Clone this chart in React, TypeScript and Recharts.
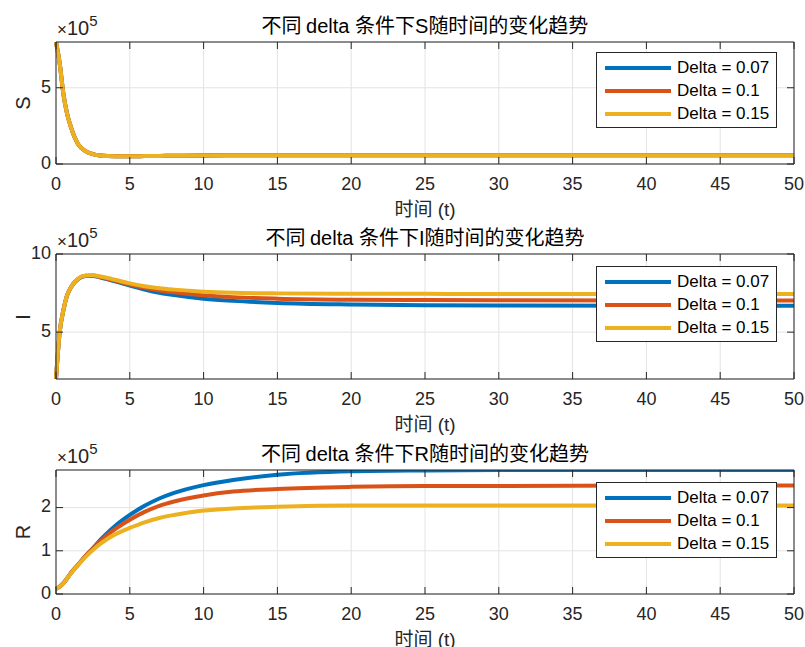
import React from 'react';
import { LineChart, Line, XAxis, YAxis, CartesianGrid } from 'recharts';

// time points (t) and values in units of 1e5
const T = [0, 0.25, 0.5, 0.75, 1, 1.5, 2, 2.5, 3, 3.5, 4, 5, 6, 7, 8, 10, 12, 15, 20, 25, 30, 40, 50];

const S_D07 = [8.0, 6.6, 4.6, 3.3, 2.45, 1.3, 0.85, 0.65, 0.56, 0.52, 0.51, 0.51, 0.52, 0.53, 0.54, 0.56, 0.57, 0.58, 0.58, 0.58, 0.58, 0.58, 0.58];
const S_D10 = [8.0, 6.6, 4.6, 3.3, 2.45, 1.3, 0.85, 0.65, 0.56, 0.52, 0.51, 0.51, 0.52, 0.53, 0.54, 0.56, 0.57, 0.58, 0.58, 0.58, 0.58, 0.58, 0.58];
const S_D15 = [8.0, 6.6, 4.6, 3.3, 2.45, 1.3, 0.85, 0.65, 0.56, 0.52, 0.51, 0.51, 0.52, 0.53, 0.54, 0.56, 0.57, 0.58, 0.58, 0.58, 0.58, 0.58, 0.58];

const I_D07 = [2.0, 5.0, 6.4, 7.35, 7.85, 8.4, 8.6, 8.6, 8.5, 8.38, 8.25, 7.98, 7.73, 7.52, 7.37, 7.14, 7.0, 6.87, 6.77, 6.72, 6.7, 6.69, 6.69];
const I_D10 = [2.0, 5.0, 6.4, 7.35, 7.85, 8.41, 8.61, 8.62, 8.53, 8.42, 8.3, 8.05, 7.84, 7.67, 7.55, 7.36, 7.24, 7.14, 7.07, 7.05, 7.04, 7.03, 7.03];
const I_D15 = [2.0, 5.0, 6.4, 7.35, 7.85, 8.42, 8.62, 8.64, 8.56, 8.46, 8.35, 8.12, 7.94, 7.81, 7.72, 7.59, 7.52, 7.48, 7.46, 7.45, 7.44, 7.44, 7.44];

const R_D07 = [0.12, 0.17, 0.25, 0.36, 0.48, 0.68, 0.88, 1.06, 1.25, 1.42, 1.575, 1.83, 2.04, 2.21, 2.34, 2.52, 2.64, 2.76, 2.84, 2.86, 2.87, 2.87, 2.87];
const R_D10 = [0.12, 0.17, 0.25, 0.36, 0.48, 0.68, 0.88, 1.05, 1.22, 1.37, 1.5, 1.72, 1.9, 2.04, 2.14, 2.28, 2.37, 2.43, 2.48, 2.5, 2.5, 2.51, 2.51];
const R_D15 = [0.12, 0.17, 0.25, 0.36, 0.47, 0.67, 0.86, 1.02, 1.16, 1.28, 1.38, 1.53, 1.66, 1.76, 1.83, 1.93, 1.98, 2.02, 2.05, 2.05, 2.05, 2.05, 2.05];

const X_TICKS = [0, 5, 10, 15, 20, 25, 30, 35, 40, 45, 50];
const DELTAS = ['Delta = 0.07', 'Delta = 0.1', 'Delta = 0.15'];
const COLORS = ['#0072BD', '#D95319', '#EDB120'];

const AXIS = '#262626';
const GRID = '#e3e3e3';
const FONT = '"Liberation Sans", Arial, "Noto Sans CJK SC", sans-serif';
const CJK = '"Noto Sans CJK SC", "Liberation Sans", sans-serif';

const buildRows = (a: number[], b: number[], c: number[]) =>
  T.map((t, i) => ({ t, d07: a[i], d10: b[i], d15: c[i] }));

const XTick = ({ x, y, payload, top }: any) => (
  <g>
    <line x1={x} x2={x} y1={y} y2={top ? y + 7 : y - 7} stroke={AXIS} strokeWidth={1} />
    {!top && (
      <text x={x} y={y + 21} textAnchor="middle" dominantBaseline="middle" fill={AXIS} fontSize={18} fontFamily={FONT}>
        {payload.value}
      </text>
    )}
  </g>
);

const YTick = ({ x, y, payload, right }: any) => (
  <g>
    <line x1={x} x2={right ? x - 7 : x + 7} y1={y} y2={y} stroke={AXIS} strokeWidth={1} />
    {!right && (
      <text x={x - 5} y={y} textAnchor="end" dominantBaseline="middle" fill={AXIS} fontSize={18} fontFamily={FONT}>
        {payload.value}
      </text>
    )}
  </g>
);

type PanelProps = {
  top: number;
  plotTop: number;
  plotHeight: number;
  data: any[];
  domain: [number, number];
  yTicks: number[];
  varName: string;
  legendTop: number;
};

function Panel({ top, plotTop, plotHeight, data, domain, yTicks, varName, legendTop }: PanelProps) {
  const height = plotTop + plotHeight + 50;
  const midY = plotTop + plotHeight / 2;
  return (
    <div style={{ position: 'absolute', left: 0, top, width: 805, height }}>
      <LineChart width={805} height={height} data={data} margin={{ top: 0, right: 0, bottom: 0, left: 0 }}>
        <CartesianGrid stroke={GRID} strokeWidth={1} />
        <XAxis dataKey="t" type="number" domain={[0, 50]} ticks={X_TICKS} height={50} tickSize={0} tickMargin={0}
          tickLine={false} axisLine={{ stroke: AXIS }} tick={(p: any) => <XTick {...p} />} interval={0} />
        <XAxis xAxisId="top" dataKey="t" type="number" orientation="top" domain={[0, 50]} ticks={X_TICKS} height={plotTop}
          tickSize={0} tickMargin={0} tickLine={false} axisLine={{ stroke: AXIS }} tick={(p: any) => <XTick {...p} top />} interval={0} />
        <YAxis type="number" domain={domain} ticks={yTicks} width={56} tickSize={0} tickMargin={0} tickLine={false}
          axisLine={{ stroke: AXIS }} allowDataOverflow tick={(p: any) => <YTick {...p} />} interval={0} />
        <YAxis yAxisId="right" orientation="right" type="number" domain={domain} ticks={yTicks} width={11} tickSize={0}
          tickMargin={0} tickLine={false} axisLine={{ stroke: AXIS }} allowDataOverflow tick={(p: any) => <YTick {...p} right />} interval={0} />
        <Line dataKey="d07" type="monotone" stroke={COLORS[0]} strokeWidth={4} dot={false} isAnimationActive={false} />
        <Line dataKey="d10" type="monotone" stroke={COLORS[1]} strokeWidth={4} dot={false} isAnimationActive={false} />
        <Line dataKey="d15" type="monotone" stroke={COLORS[2]} strokeWidth={4} dot={false} isAnimationActive={false} />
      </LineChart>

      {/* title */}
      <div style={{ position: 'absolute', left: 56, width: 738, top: plotTop - 29, textAlign: 'center', fontSize: 20,
        lineHeight: '24px', color: '#000', whiteSpace: 'nowrap' }}>
        <span style={{ fontFamily: CJK }}>不同 </span>
        <span style={{ fontFamily: FONT }}>delta </span>
        <span style={{ fontFamily: CJK }}>条件下</span>
        <span style={{ fontFamily: FONT }}>{varName}</span>
        <span style={{ fontFamily: CJK }}>随时间的变化趋势</span>
      </div>

      {/* exponent */}
      <div style={{ position: 'absolute', left: 57, top: plotTop - 24, fontFamily: FONT, color: AXIS, whiteSpace: 'nowrap', lineHeight: '20px' }}>
        <span style={{ fontSize: 17 }}>×</span>
        <span style={{ fontSize: 20 }}>10</span>
        <span style={{ fontSize: 15, position: 'relative', top: -9 }}>5</span>
      </div>

      {/* y label */}
      <div style={{ position: 'absolute', left: 23, top: midY, transform: 'translate(-50%, -50%) rotate(-90deg)',
        fontFamily: FONT, fontSize: 20, color: AXIS }}>
        {varName}
      </div>

      {/* x label */}
      <div style={{ position: 'absolute', left: 56, width: 738, top: plotTop + plotHeight + 32, textAlign: 'center',
        fontSize: 19, lineHeight: '24px', color: AXIS, whiteSpace: 'nowrap' }}>
        <span style={{ fontFamily: CJK }}>时间</span>
        <span style={{ fontFamily: FONT }}> (t)</span>
      </div>

      {/* legend */}
      <div style={{ position: 'absolute', left: 596, top: legendTop, width: 181, height: 76, border: `1px solid ${AXIS}`,
        background: '#fff', padding: '4px 0', boxSizing: 'border-box' }}>
        {DELTAS.map((d, i) => (
          <div key={d} style={{ display: 'flex', alignItems: 'center', height: 22.7 }}>
            <div style={{ width: 66, height: 4, marginLeft: 8, background: COLORS[i] }} />
            <span style={{ marginLeft: 6, fontFamily: FONT, fontSize: 17, color: '#000' }}>{d}</span>
          </div>
        ))}
      </div>
    </div>
  );
}

export default function App() {
  return (
    <div style={{ position: 'absolute', left: 0, top: 0, width: 805, height: 647, background: '#fff', overflow: 'hidden' }}>
      <Panel top={0} plotTop={42} plotHeight={122} data={buildRows(S_D07, S_D10, S_D15)} domain={[0, 8]}
        yTicks={[0, 5]} varName="S" legendTop={52} />
      <Panel top={213} plotTop={41} plotHeight={125} data={buildRows(I_D07, I_D10, I_D15)} domain={[2, 10]}
        yTicks={[5, 10]} varName="I" legendTop={53} />
      <Panel top={429} plotTop={41} plotHeight={124} data={buildRows(R_D07, R_D10, R_D15)} domain={[0, 2.87]}
        yTicks={[0, 1, 2]} varName="R" legendTop={53} />
    </div>
  );
}
